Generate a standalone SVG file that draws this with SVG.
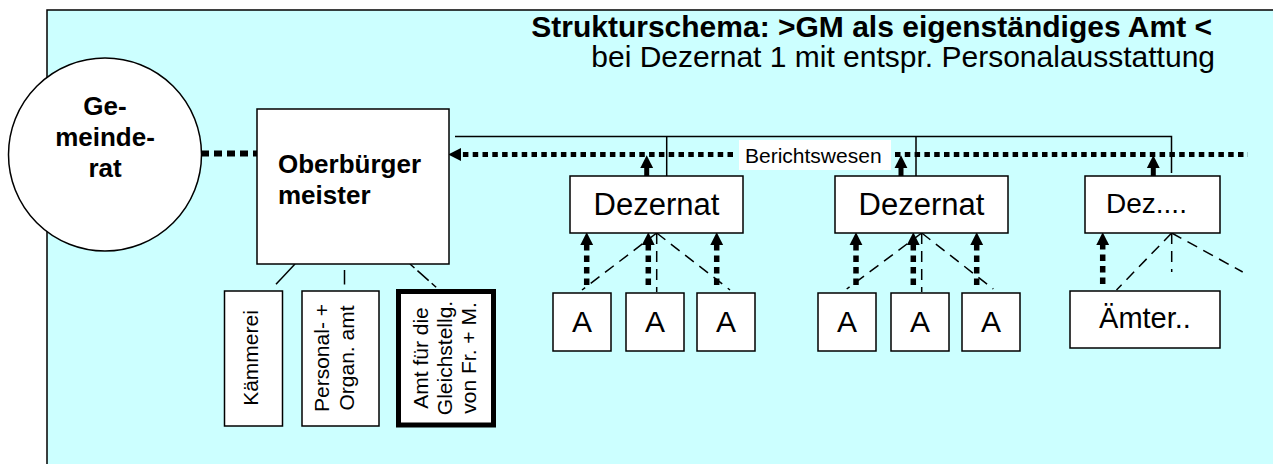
<svg xmlns="http://www.w3.org/2000/svg" width="1273" height="464" viewBox="0 0 1273 464">
<defs>
<style>
.bg{fill:#CCFFFF;stroke:#000;stroke-width:1.5}
.box{fill:#fff;stroke:#000;stroke-width:1.5}
.t{font-family:"Liberation Sans",Arial,sans-serif;fill:#000}
.b{font-weight:bold}
.dots{fill:none;stroke:#000;stroke-width:5}
.vdots{fill:none;stroke:#000;stroke-width:5.5;stroke-dasharray:6.5 5}
.thick{fill:none;stroke:#000;stroke-width:5}
.dash{fill:none;stroke:#000;stroke-width:1.5;stroke-dasharray:11 7}
.line{fill:none;stroke:#000;stroke-width:1.5}
</style>
<marker id="ah" markerUnits="userSpaceOnUse" markerWidth="14" markerHeight="14" refX="0" refY="6" orient="auto" viewBox="0 0 12 12">
<path d="M0,0.5 L11,6 L0,11.5 Z" fill="#000"/>
</marker>
</defs>
<rect class="bg" x="47" y="10" width="1240" height="470"/>

<g id="title">
<text class="t b" x="1212" y="37" font-size="30" text-anchor="end">Strukturschema: &gt;GM als eigenständiges Amt &lt;</text>
<text class="t" x="1215" y="67" font-size="30" text-anchor="end">bei Dezernat 1 mit entspr. Personalausstattung</text>
</g>

<g id="connectors">
<path class="dots" d="M201 153.5 H257" style="stroke-width:6;stroke-dasharray:8 5"/>
<path class="dots" d="M733 154.5 H461" stroke-dasharray="5.5 4.3" marker-end="url(#ah)"/>
<path class="dots" d="M895 154.5 H1248" stroke-dasharray="5.5 4.3"/>
<path class="line" d="M455 136.5 H1171.5 V173"/>
<path class="line" d="M666.7 136.5 V176"/>
<path class="line" d="M916 136.5 V176"/>
<path class="thick" d="M646.7 176 V168" marker-end="url(#ah)"/>
<path class="thick" d="M901 176 V168" marker-end="url(#ah)"/>
<path class="thick" d="M1153.3 176 V168" marker-end="url(#ah)"/>
<path class="vdots" d="M586.7 285 V245" marker-end="url(#ah)"/>
<path class="vdots" d="M648.3 285 V245" marker-end="url(#ah)"/>
<path class="vdots" d="M716.7 285 V245" marker-end="url(#ah)"/>
<path class="vdots" d="M856 285 V245" marker-end="url(#ah)"/>
<path class="vdots" d="M913.3 285 V245" marker-end="url(#ah)"/>
<path class="vdots" d="M976.7 285 V245" marker-end="url(#ah)"/>
<path class="vdots" d="M1102.7 284 V245" marker-end="url(#ah)"/>
<path class="dash" d="M656.7 233 L582 290"/>
<path class="dash" d="M656.7 233 V292"/>
<path class="dash" d="M656.7 233 L730 290"/>
<path class="dash" d="M921.7 233 L846.7 289"/>
<path class="dash" d="M921.7 233 V292"/>
<path class="dash" d="M921.7 233 L993.3 289"/>
<path class="dash" d="M1171.7 233 L1116.5 290"/>
<path class="dash" d="M1171.7 233 V272"/>
<path class="dash" d="M1171.7 233 L1242.7 272"/>
<path class="line" d="M295 264 L276 284.3"/>
<path class="line" d="M344.5 270 V284.5"/>
<path class="dash" d="M410 264 L437.3 288.3" style="stroke-dasharray:6 4 15 4"/>
</g>

<g id="berichtswesen">
<rect x="739" y="140" width="152" height="30" fill="#fff"/>
<text class="t" x="745" y="163" font-size="21">Berichtswesen</text>
</g>

<g id="gemeinderat">
<circle cx="105" cy="154.5" r="96.5" class="box"/>
<text class="t b" font-size="26" text-anchor="middle"><tspan x="105" y="115">Ge-</tspan><tspan x="105" y="146">meinde-</tspan><tspan x="105" y="177">rat</tspan></text>
</g>

<g id="oberbuergermeister">
<rect class="box" x="257" y="109" width="192" height="155"/>
<text class="t b" font-size="26"><tspan x="278" y="173">Oberbürger</tspan><tspan x="278" y="204">meister</tspan></text>
</g>

<g id="kaemmerei">
<rect class="box" x="224.5" y="291" width="58" height="135"/>
<text class="t" font-size="21" text-anchor="middle" transform="translate(258 358) rotate(-90)">Kämmerei</text>
</g>

<g id="personalamt">
<rect class="box" x="302" y="291" width="77" height="135"/>
<text class="t" font-size="21" text-anchor="middle" transform="translate(329 358) rotate(-90)">Personal- +</text>
<text class="t" font-size="21" text-anchor="middle" transform="translate(353.5 358) rotate(-90)">Organ. amt</text>
</g>

<g id="gleichstellung">
<rect x="398.5" y="291.5" width="95" height="133.5" fill="#fff" stroke="#000" stroke-width="5"/>
<text class="t" font-size="21" text-anchor="middle" transform="translate(428 358) rotate(-90)">Amt für die</text>
<text class="t" font-size="21" text-anchor="middle" transform="translate(451.5 358) rotate(-90)">Gleichstellg.</text>
<text class="t" font-size="21" text-anchor="middle" transform="translate(476 358) rotate(-90)">von Fr. + M.</text>
</g>

<g id="dezernat1">
<rect class="box" x="570" y="176" width="173" height="57"/>
<text class="t" x="656.5" y="215" font-size="31" text-anchor="middle">Dezernat</text>
</g>
<g id="dezernat2">
<rect class="box" x="835" y="176" width="173" height="57"/>
<text class="t" x="921.5" y="215" font-size="31" text-anchor="middle">Dezernat</text>
</g>
<g id="dezernat3">
<rect class="box" x="1085" y="176" width="135" height="57"/>
<text class="t" x="1106" y="213" font-size="28">Dez....</text>
</g>

<g id="a1"><rect class="box" x="553" y="293" width="58" height="58"/><text class="t" x="582" y="332" font-size="30" text-anchor="middle">A</text></g>
<g id="a2"><rect class="box" x="626" y="293" width="58" height="58"/><text class="t" x="655" y="332" font-size="30" text-anchor="middle">A</text></g>
<g id="a3"><rect class="box" x="697" y="293" width="58" height="58"/><text class="t" x="726" y="332" font-size="30" text-anchor="middle">A</text></g>
<g id="a4"><rect class="box" x="818" y="293" width="58" height="58"/><text class="t" x="847" y="332" font-size="30" text-anchor="middle">A</text></g>
<g id="a5"><rect class="box" x="891" y="293" width="58" height="58"/><text class="t" x="920" y="332" font-size="30" text-anchor="middle">A</text></g>
<g id="a6"><rect class="box" x="962" y="293" width="58" height="58"/><text class="t" x="991" y="332" font-size="30" text-anchor="middle">A</text></g>

<g id="aemter">
<rect class="box" x="1070" y="291" width="150" height="57"/>
<text class="t" x="1145" y="328" font-size="29" text-anchor="middle">Ämter..</text>
</g>
</svg>
